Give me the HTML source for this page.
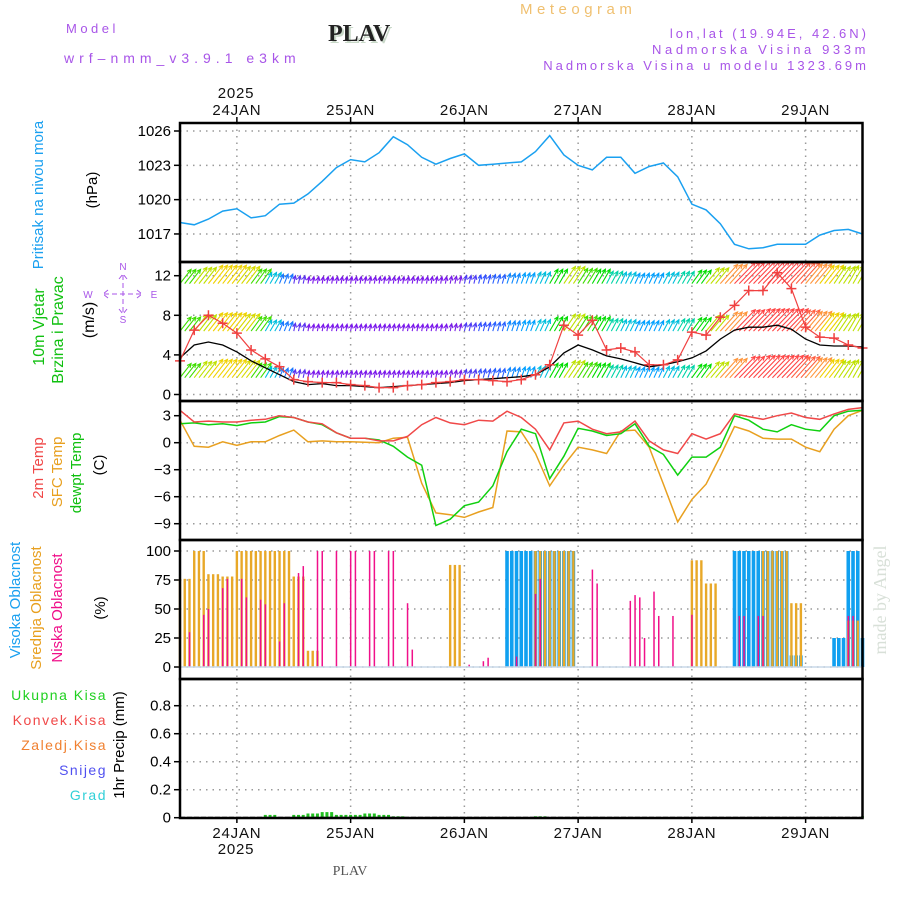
<!DOCTYPE html>
<html><head><meta charset="utf-8"><title>Meteogram PLAV</title>
<style>
html,body{margin:0;padding:0;background:#fff;}
svg{display:block;font-family:"Liberation Sans",sans-serif;}
.hdr{font-size:13px;letter-spacing:2.6px;fill:#a855e8;}
.tick{font-size:15px;fill:#000;}
.day{font-size:15px;fill:#111;letter-spacing:0.8px;}
</style></head>
<body>
<svg id="chart" width="900" height="900" viewBox="0 0 900 900" xmlns="http://www.w3.org/2000/svg">
<defs><clipPath id="plotclip"><rect x="180" y="262" width="682.5" height="139"/></clipPath></defs>
<text x="66" y="33" class="hdr" style="letter-spacing:3.5px">Model</text>
<text x="64" y="63" class="hdr" style="font-size:14px;letter-spacing:5px">wrf–nmm_v3.9.1 e3km</text>
<text x="330" y="43" style="font-family:'Liberation Serif',serif;font-weight:bold;font-size:24px;fill:#c8d8c8;">PLAV</text>
<text x="328" y="41" style="font-family:'Liberation Serif',serif;font-weight:bold;font-size:24px;fill:#222;">PLAV</text>
<text x="520" y="14" class="hdr" style="fill:#f0c070;font-size:15px;letter-spacing:4.5px">Meteogram</text>
<text x="869" y="38" class="hdr" text-anchor="end" style="letter-spacing:3px">lon,lat (19.94E, 42.6N)</text>
<text x="869" y="54" class="hdr" text-anchor="end" style="letter-spacing:3.6px">Nadmorska Visina 933m</text>
<text x="869" y="70" class="hdr" text-anchor="end" style="letter-spacing:3px">Nadmorska Visina u modelu 1323.69m</text>
<text x="236" y="98" class="day" text-anchor="middle">2025</text>
<text x="236" y="854" class="day" text-anchor="middle">2025</text>
<text x="350" y="875" text-anchor="middle" style="font-family:'Liberation Serif',serif;font-size:14px;fill:#555">PLAV</text>
<text transform="translate(886,600) rotate(-90)" text-anchor="middle" style="font-family:'Liberation Serif',serif;font-size:18px;fill:#d8e0d8">made by Angel</text>

<text transform="translate(43,195) rotate(-90)" text-anchor="middle" style="font-size:15px;fill:#1aa0f0">Pritisak na nivou mora</text>
<text transform="translate(97,190) rotate(-90)" text-anchor="middle" style="font-size:15px;fill:#000">(hPa)</text>
<text transform="translate(44,327) rotate(-90)" text-anchor="middle" style="font-size:16px;fill:#10c010">10m Vjetar</text>
<text transform="translate(63,330) rotate(-90)" text-anchor="middle" style="font-size:16px;fill:#10c010">Brzina i Pravac</text>
<text transform="translate(94,320) rotate(-90)" text-anchor="middle" style="font-size:16px;fill:#000">(m/s)</text>
<g style="font-size:10px;fill:#a855e8">
<text x="123" y="270" text-anchor="middle">N</text>
<text x="123" y="323" text-anchor="middle">S</text>
<text x="88" y="298" text-anchor="middle">W</text>
<text x="154" y="298" text-anchor="middle">E</text>
<path d="M104,294H142M123,275V314M108,290L103,294L108,298M137,290L142,294L137,298M119,279L123,274L127,279M119,309L123,314L127,309" stroke="#a855e8" fill="none" stroke-width="1" stroke-dasharray="5,3"/>
</g>
<text transform="translate(43,468) rotate(-90)" text-anchor="middle" style="font-size:15px;fill:#f04848">2m Temp</text>
<text transform="translate(62,472) rotate(-90)" text-anchor="middle" style="font-size:15px;fill:#e8a020">SFC Temp</text>
<text transform="translate(81,473) rotate(-90)" text-anchor="middle" style="font-size:15px;fill:#10c010">dewpt Temp</text>
<text transform="translate(104,465) rotate(-90)" text-anchor="middle" style="font-size:15px;fill:#000">(C)</text>
<text transform="translate(20,600) rotate(-90)" text-anchor="middle" style="font-size:15px;fill:#1aa0f0">Visoka Oblacnost</text>
<text transform="translate(41,608) rotate(-90)" text-anchor="middle" style="font-size:15px;fill:#e8a020">Srednja Oblacnost</text>
<text transform="translate(62,608) rotate(-90)" text-anchor="middle" style="font-size:15px;fill:#f0108a">Niska Oblacnost</text>
<text transform="translate(105,608) rotate(-90)" text-anchor="middle" style="font-size:15px;fill:#000">(%)</text>
<g style="font-size:14px;letter-spacing:1.5px" text-anchor="end">
<text x="107" y="700" fill="#20d020">Ukupna  Kisa</text>
<text x="107" y="725" fill="#f04848">Konvek.Kisa</text>
<text x="107" y="750" fill="#f08030">Zaledj.Kisa</text>
<text x="107" y="775" fill="#5050f0">Snijeg</text>
<text x="107" y="800" fill="#30d0d8">Grad</text>
</g>
<text transform="translate(124,745) rotate(-90)" text-anchor="middle" style="font-size:15px;fill:#000">1hr Precip (mm)</text>
</svg>
<script>
// ---- data (3-hourly from 23JAN 12UTC) ----
const dayLabels = ["24JAN","25JAN","26JAN","27JAN","28JAN","29JAN"];
const pressure = [1018.0,1017.8,1018.3,1019.0,1019.2,1018.4,1018.6,1019.6,1019.7,1020.5,1021.6,1022.8,1023.5,1023.3,1024.1,1025.5,1024.8,1023.7,1023.1,1023.6,1024.0,1023.0,1023.1,1023.2,1023.3,1024.2,1025.6,1023.9,1023.0,1022.6,1023.7,1023.7,1022.3,1022.9,1023.2,1022.0,1019.6,1019.1,1017.9,1016.1,1015.7,1015.8,1016.1,1016.1,1016.1,1016.9,1017.3,1017.4,1017.0];
const pressureTicks = [1017,1020,1023,1026];
const windSpeed = [3.7,5.0,5.3,5.0,4.3,3.4,2.7,2.0,1.3,1.0,1.1,0.9,0.9,0.8,0.7,0.8,0.9,1.0,1.1,1.2,1.4,1.5,1.6,1.7,1.8,2.0,2.8,4.2,5.0,4.5,3.9,3.6,3.2,2.8,3.0,3.3,3.7,4.4,5.6,6.5,6.8,6.8,7.0,6.6,5.6,5.0,4.9,4.9,4.8];
const windGust = [3.4,6.5,8.0,7.2,6.2,4.5,3.6,2.8,1.5,1.3,1.2,1.2,1.0,0.9,0.7,0.7,0.9,1.0,1.2,1.3,1.5,1.5,1.4,1.3,1.5,2.0,3.0,7.0,6.0,7.5,4.5,4.7,4.3,3.0,3.0,3.5,6.3,6.0,7.8,9.0,10.5,10.5,12.3,10.7,6.8,5.8,5.7,5.0,4.7];
const arrowSpeed = [5,6,7,7,6.5,5,3,2,1.2,0.8,0.8,0.8,0.8,0.8,0.8,0.8,0.8,0.8,0.8,1.0,1.3,1.5,1.7,2.2,2.5,3,4.5,6,5,4.5,3.5,3,2.5,2.5,3,3.5,4.5,6,8,9.5,10,10,10,9,8,7,6,6,5.5];
const windDir = [38,38,38,38,38,36,30,22,12,10,10,10,10,10,10,10,10,10,10,12,14,15,16,18,20,25,30,34,32,30,28,26,25,25,28,30,36,40,42,44,44,44,44,42,40,38,34,30,28];
const arrowLevels = [1.7,6.4,11.2];
const windTicks = [0,4,8,12];
const temp2m = [3.6,2.3,2.4,2.3,2.3,2.5,2.6,3.0,2.8,2.3,2.1,1.1,0.5,0.5,0.2,0.2,0.7,2.0,2.8,2.2,2.0,2.5,2.4,3.5,2.8,1.5,-0.8,2.2,2.4,1.5,1.0,1.2,2.4,0.2,-0.8,-1.2,1.0,0.4,1.0,3.2,2.9,2.6,3.0,3.3,2.8,2.6,3.2,3.7,3.9];
const tempSfc = [2.5,-0.4,-0.5,0.1,-0.3,0.1,0.1,0.8,1.4,0.1,0.2,0.1,0.1,0.05,0,0.5,0.6,-4.5,-7.8,-8.0,-8.3,-7.7,-7.2,1.3,1.2,-1.2,-4.8,-2.5,-0.5,-0.8,-1.2,1.3,1.4,-0.5,-4.6,-8.8,-6.3,-4.6,-1.5,1.8,1.3,0.5,0.4,0.4,-0.5,-1.0,1.5,3.0,3.6];
const dewpt = [2.1,2.2,2.0,2.1,1.9,2.2,2.3,2.9,2.8,2.3,2.0,1.1,0.5,0.5,0.3,-0.4,-1.6,-2.5,-9.2,-8.5,-7.0,-6.6,-4.8,-1.0,1.5,1.0,-4.0,-1.5,1.6,1.3,0.8,1.0,2.1,-0.4,-1.3,-3.6,-1.6,-1.6,-0.5,3.0,2.5,1.5,1.2,2.0,1.5,1.3,3.0,3.5,3.6];
const tempTicks = [-9,-6,-3,0,3];
const midCloud = [76,100,80,78,100,100,100,100,78,14,0,0,0,0,0,0,0,0,0,88,0,0,0,0,0,100,100,100,0,0,0,0,0,0,0,0,92,72,0,0,0,100,100,55,0,0,0,40,0];
const highCloud = [0,0,0,0,0,0,0,0,0,0,0,0,0,0,0,0,0,0,0,0,0,0,0,100,100,100,100,100,0,0,0,0,0,0,0,0,0,0,0,100,100,100,100,10,0,0,25,100,25];
const lowCloudHours = [2,5,6,9,10,13,14,17,18,21,22,25,26,29,30,33,36,37,40,41,44,45,48,49,61,64,65,71,75,76,87,88,95,96,97,98,100,101,104,108,118,119,122,123,141,142];
const lowCloud = [30,45,50,68,76,76,60,58,54,22,55,81,87,100,100,100,100,100,100,100,100,100,55,15,2,5,8,9,63,76,84,72,57,62,60,25,65,44,44,45,44,44,44,44,44,44];
const precip = [0,0,0,0,0,0,0.02,0,0.02,0.03,0.04,0.02,0.02,0.03,0.02,0.01,0,0,0,0,0,0,0,0,0,0.01,0,0,0,0,0,0,0,0,0,0,0,0,0,0,0,0,0,0,0,0,0,0,0.01];
const cloudTicks = [0,25,50,75,100];
const precipTicks = [0,0.2,0.4,0.6,0.8];

// ---- layout ----
const L=180,R=862.5;
const NS="http://www.w3.org/2000/svg";
const svg=document.getElementById('chart');
const xh=h=>L+h*(R-L)/144;
const xi=i=>xh(i*3);
const xDay=d=>xh(12+24*d);
const yP=v=>131+(1026-v)*11.44;
const yW=v=>394.5-v*9.9;
const yT=v=>442.7-v*9.0;
const yC=v=>667-v*1.16;
const yR=v=>817.7-v*140;
const panels=[[123,262],[262,401],[401,540],[540,679],[679,818]];
function mk(tag,attrs,parent){const e=document.createElementNS(NS,tag);for(const k in attrs)e.setAttribute(k,attrs[k]);(parent||svg).appendChild(e);return e;}

// grid
const grid=mk('g',{});


function hgrid(y){const l=mk('line',{x1:L,x2:R,y1:y,y2:y,stroke:'#9a9a9a','stroke-width':1.5,'stroke-dasharray':'1.5,5'},grid);}
for(let d=0;d<6;d++){const l=mk('line',{x1:xDay(d),x2:xDay(d),y1:123,y2:818,stroke:'#9a9a9a','stroke-width':1.5,'stroke-dasharray':'1.5,5'},grid);}
pressureTicks.forEach(v=>hgrid(yP(v)));windTicks.forEach(v=>hgrid(yW(v)));tempTicks.forEach(v=>hgrid(yT(v)));cloudTicks.forEach(v=>hgrid(yC(v)));precipTicks.slice(1).forEach(v=>hgrid(yR(v)));

function yTicks(arr,f,fmt,name){arr.forEach(v=>{const y=f(v);const t=mk('line',{x1:174,x2:180,y1:y,y2:y,stroke:'#000','stroke-width':1.5});const tx=mk('text',{x:171,y:y+5,'text-anchor':'end',class:'tick'});tx.textContent=fmt(v);});}
yTicks(pressureTicks,yP,v=>v,'pressure');
yTicks(windTicks,yW,v=>v,'wind');
yTicks(tempTicks,yT,v=>v<0?'−'+(-v):v,'temp');
yTicks(cloudTicks,yC,v=>v,'cloud');
yTicks(precipTicks,yR,v=>v===0?'0':v.toFixed(1),'precip');
dayLabels.forEach((d,i)=>{const x=xDay(i);
 const a=mk('text',{x:x,y:115,'text-anchor':'middle',class:'day'});a.textContent=d;
 const b=mk('text',{x:x,y:838,'text-anchor':'middle',class:'day'});b.textContent=d;
 const t1=mk('line',{x1:x,x2:x,y1:117,y2:123,stroke:'#000','stroke-width':1.5});
 const t2=mk('line',{x1:x,x2:x,y1:818,y2:823,stroke:'#000','stroke-width':1.5});
});

function line(arr,fy,color,name,w){const p=mk('polyline',{points:arr.map((v,i)=>xi(i).toFixed(1)+','+fy(v).toFixed(1)).join(' '),fill:'none',stroke:color,'stroke-width':w||1.5});return p;}

// pressure
line(pressure,yP,'#1aa0f0','pressure-line');

// wind arrows
function windColor(s){const st=[[0,[128,0,255]],[1.0,[120,30,230]],[1.5,[50,80,255]],[2.5,[0,160,255]],[3.3,[0,210,200]],[4.5,[0,220,0]],[6,[190,225,0]],[7,[240,210,0]],[8,[255,150,60]],[9.5,[255,70,70]],[20,[255,50,50]]];
 for(let k=1;k<st.length;k++){if(s<=st[k][0]){const a=st[k-1],b=st[k],t=(s-a[0])/(b[0]-a[0]);return 'rgb('+a[1].map((c,j)=>Math.round(c+(b[1][j]-c)*t)).join(',')+')';}}return 'rgb(255,50,50)';}
const arrows=mk('g',{'stroke-width':1.1,fill:'none','clip-path':'url(#plotclip)'});


for(let h=0;h<=144;h++){const k=Math.min(48,Math.floor(h/3));const s=arrowSpeed[k],th=windDir[k]*Math.PI/180,len=5+2.6*s,col=windColor(s);
 arrowLevels.forEach(lv=>{const x0=xh(h),y0=yW(lv),x1=x0+len*Math.sin(th),y1=y0-len*Math.cos(th);
  const hx=Math.sin(th),hy=-Math.cos(th),hl=4.5;
  const ax=x1-hl*(hx*Math.cos(0.45)-hy*Math.sin(0.45)),ay=y1-hl*(hy*Math.cos(0.45)+hx*Math.sin(0.45));
  const bx=x1-hl*(hx*Math.cos(-0.45)-hy*Math.sin(-0.45)),by=y1-hl*(hy*Math.cos(-0.45)+hx*Math.sin(-0.45));
  const a=mk('path',{d:`M${x0.toFixed(1)},${y0.toFixed(1)}L${x1.toFixed(1)},${y1.toFixed(1)}M${ax.toFixed(1)},${ay.toFixed(1)}L${x1.toFixed(1)},${y1.toFixed(1)}L${bx.toFixed(1)},${by.toFixed(1)}`,stroke:col},arrows);
  
  
 });}
line(windSpeed,yW,'#000','wind-speed-line',1.3);
line(windGust,yW,'#f04040','wind-gust-line',1.2);
windGust.forEach((v,i)=>{const x=xi(i),y=yW(v);const c=mk('path',{d:`M${x-5},${y}H${x+5}M${x},${y-5}V${y+5}`,stroke:'#f04040','stroke-width':1.5});});

// temperature
line(tempSfc,yT,'#e8a020','sfc-temp-line');
line(dewpt,yT,'#10d010','dewpoint-line');
line(temp2m,yT,'#f04848','temp2m-line');

// clouds
const clouds=mk('g',{});


for(let h=0;h<=144;h++){const k=Math.min(48,Math.floor(h/3));
 if(highCloud[k]>0){const b=mk('rect',{x:xh(h)-1.8,y:yC(highCloud[k]),width:3.6,height:yC(0)-yC(highCloud[k]),fill:'#10a0f0'},clouds);}
 if(midCloud[k]>0){const b=mk('rect',{x:xh(h)-1.2,y:yC(midCloud[k]),width:2.4,height:yC(0)-yC(midCloud[k]),fill:'#e8a828'},clouds);}
}
lowCloudHours.forEach((h,j)=>{const b=mk('rect',{x:xh(h)-0.7,y:yC(lowCloud[j]),width:1.5,height:yC(0)-yC(lowCloud[j]),fill:'#f0108a'},clouds);});
const cb=mk('line',{x1:L,x2:R,y1:yC(0),y2:yC(0),stroke:'#c8d8e8','stroke-width':1.5});



// precipitation
for(let h=0;h<=144;h++){const k=Math.min(48,Math.floor(h/3));if(precip[k]>0){const b=mk('rect',{x:xh(h)-1.5,y:yR(precip[k]),width:3,height:yR(0)-yR(precip[k]),fill:'#20c020'});}}
const pb=mk('line',{x1:L,x2:R,y1:yR(0),y2:yR(0),stroke:'#333','stroke-width':2,'stroke-dasharray':'5,2'});



// panel frames
panels.forEach((p,i)=>{const r=mk('rect',{x:L,y:p[0],width:R-L,height:p[1]-p[0],fill:'none',stroke:'#000','stroke-width':2.5});});
</script>
</body></html>
